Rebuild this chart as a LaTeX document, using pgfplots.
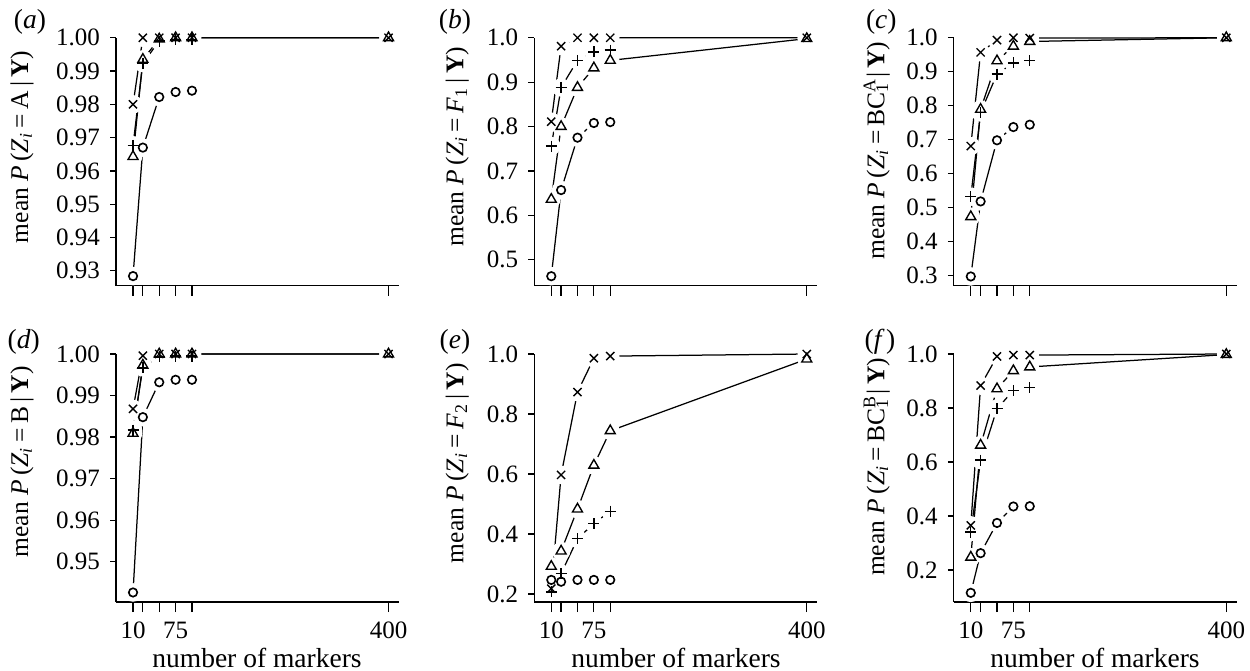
\documentclass[border=0pt]{standalone}
\usepackage{fontspec}
\setmainfont{Liberation Serif}
\usepackage{pgfplots}
\usepackage{pgfplotstable}
\pgfplotsset{compat=1.18}

% columns: number of markers, x-mark series, plus series, triangle series, circle series
\pgfplotstableread{
x    cr     pl     tr     ci
10   0.9800 0.9677 0.9643 0.9284
25   1.0000 0.9924 0.9935 0.9670
50   1.0000 0.9990 0.9996 0.9822
75   1.0000 0.9994 1.0000 0.9837
100  1.0000 0.9994 1.0000 0.9841
400  1.0000 nan    1.0000 nan
}\tabA
\pgfplotstableread{
x    cr     pl     tr     ci
10   0.811  0.756  0.636  0.463
25   0.981  0.888  0.800  0.657
50   1.000  0.949  0.888  0.775
75   1.000  0.968  0.932  0.808
100  1.000  0.972  0.949  0.810
400  1.000  nan    0.998  nan
}\tabB
\pgfplotstableread{
x    cr     pl     tr     ci
10   0.681  0.532  0.473  0.297
25   0.957  0.780  0.789  0.518
50   0.993  0.893  0.932  0.698
75   1.000  0.926  0.975  0.737
100  0.999  0.933  0.989  0.744
400  1.000  nan    1.000  nan
}\tabC
\pgfplotstableread{
x    cr     pl     tr     ci
10   0.9868 0.9817 0.9809 0.9426
25   0.9996 0.9968 0.9973 0.9848
50   1.0000 0.9993 1.0000 0.9932
75   1.0000 0.9995 1.0000 0.9938
100  1.0000 0.9995 1.0000 0.9938
400  1.0000 nan    1.0000 nan
}\tabD
\pgfplotstableread{
x    cr     pl     tr     ci
10   0.218  0.207  0.292  0.247
25   0.597  0.268  0.343  0.241
50   0.873  0.384  0.483  0.247
75   0.986  0.435  0.629  0.247
100  0.993  0.476  0.744  0.247
400  1.000  nan    0.983  nan
}\tabE
\pgfplotstableread{
x    cr     pl     tr     ci
10   0.365  0.340  0.247  0.115
25   0.883  0.607  0.662  0.262
50   0.991  0.797  0.871  0.374
75   0.996  0.865  0.938  0.435
100  0.996  0.875  0.952  0.436
400  1.000  nan    0.998  nan
}\tabF

\newcommand\Zi{\textit{Z}\textsubscript{\textit{i}}}
\newcommand\lab[1]{mean \textit{P}\,(\Zi\,=\,#1\,|\,\textbf{Y})}
\newcommand\labfont{\fontsize{11}{13}\selectfont}

% lines first, then white halos (the gaps of a type "b" plot), then the marks
\newcommand\series[1]{%
  \addplot[black, line width=0.5pt] table[y=cr]{#1};
  \addplot[black, line width=0.5pt] table[y=pl]{#1};
  \addplot[black, line width=0.5pt] table[y=tr]{#1};
  \addplot[black, line width=0.5pt] table[y=ci]{#1};
  \addplot[white, only marks, mark=*, mark size=3.5pt] table[y=cr]{#1};
  \addplot[white, only marks, mark=*, mark size=3.5pt] table[y=pl]{#1};
  \addplot[white, only marks, mark=*, mark size=3.5pt] table[y=tr]{#1};
  \addplot[white, only marks, mark=*, mark size=3.5pt] table[y=ci]{#1};
  \addplot[black, only marks, mark=x, mark size=2.3pt, mark options={line width=0.55pt}] table[y=cr]{#1};
  \addplot[black, only marks, mark=+, mark size=2.2pt, mark options={line width=0.55pt}] table[y=pl]{#1};
  \addplot[black, only marks, mark=triangle, mark size=2.3pt, mark options={line width=0.55pt}] table[y=tr]{#1};
  \addplot[black, only marks, mark=o, mark size=1.7pt, mark options={line width=0.65pt}] table[y=ci]{#1};
}

\pgfplotsset{
  panel/.style={
    scale only axis, width=113.2pt, height=99.2pt,
    anchor=north west,
    axis x line*=bottom, axis y line*=left,
    axis line style={-, line width=0.5pt},
    xmin=-16, xmax=416, ymax=1,
    xtick={10,25,50,75,100,400},
    xticklabels={10,,,75,,400},
    tick align=outside, major tick length=2.4pt,
    tick style={black, line width=0.5pt},
    xtick style={/pgfplots/major tick length=4pt},
    clip=false, unbounded coords=jump,
    font=\labfont,
    tick label style={font=\fontsize{10}{12}\selectfont},
    xticklabel style={yshift=-2pt},
    yticklabel style={xshift=-0.5pt},
    /pgf/number format/assume math mode=true,
    yticklabel style={/pgf/number format/.cd, fixed, fixed zerofill, precision=1},
    ylabel style={at={(axis description cs:-0.272,0.56)}, anchor=center,
      font=\fontsize{10.2}{12}\selectfont},
  },
  toprow/.style={xticklabels={,,,,,}},
  prec2/.style={yticklabel style={/pgf/number format/.cd, fixed, fixed zerofill, precision=2}},
}

\begin{document}
\begin{tikzpicture}
\useasboundingbox (0,0) rectangle (500pt,-268pt);

\begin{axis}[panel, toprow, prec2, at={(46.4pt,-15.1pt)},
  ymin=0.9255, ytick={0.93,0.94,...,1.001},
  ylabel style={at={(axis description cs:-0.332,0.56)}},
  ylabel={\lab{A}}]
\series{\tabA}
\end{axis}

\begin{axis}[panel, toprow, at={(213.7pt,-15.1pt)},
  ymin=0.4415, ytick={0.5,0.6,...,1.001},
  ylabel={\lab{\textit{F}\textsubscript{1}}}]
\series{\tabB}
\end{axis}

\begin{axis}[panel, toprow, at={(381.5pt,-15.1pt)},
  ymin=0.2696, ytick={0.3,0.4,...,1.001},
  ylabel style={at={(axis description cs:-0.272,0.545)}},
  ylabel={\lab{BC\rlap{\textsuperscript{A}}\textsubscript{1}}}]
\series{\tabC}
\end{axis}

\begin{axis}[panel, prec2, at={(46.4pt,-141.6pt)},
  ymin=0.9403, ytick={0.95,0.96,...,1.001},
  ylabel style={at={(axis description cs:-0.332,0.565)}},
  ylabel={\lab{B}}]
\series{\tabD}
\end{axis}

\begin{axis}[panel, at={(213.7pt,-141.6pt)},
  ymin=0.1733, ytick={0.2,0.4,...,1.001},
  ylabel={\lab{\textit{F}\textsubscript{2}}}]
\series{\tabE}
\end{axis}

\begin{axis}[panel, at={(381.5pt,-141.6pt)},
  ymin=0.081, ytick={0.2,0.4,...,1.001},
  ylabel style={at={(axis description cs:-0.272,0.545)}},
  ylabel={\lab{BC\rlap{\textsuperscript{B}}\textsubscript{1}}}]
\series{\tabF}
\end{axis}

% x-axis titles of the bottom row
\node[font=\labfont] at (102.8pt,-263pt) {number of markers};
\node[font=\labfont] at (270.4pt,-263pt) {number of markers};
\node[font=\labfont] at (438.0pt,-263pt) {number of markers};

\node[font=\labfont] at (12pt,-8.8pt) {(\textit{a})};
\node[font=\labfont] at (182pt,-8.8pt) {(\textit{b})};
\node[font=\labfont] at (352.5pt,-8.8pt) {(\textit{c})};
\node[font=\labfont] at (9.5pt,-136.8pt) {(\textit{d})};
\node[font=\labfont] at (182pt,-136.8pt) {(\textit{e})};
\node[font=\labfont] at (352pt,-136.8pt) {(\textit{f\,})};
\end{tikzpicture}
\end{document}
